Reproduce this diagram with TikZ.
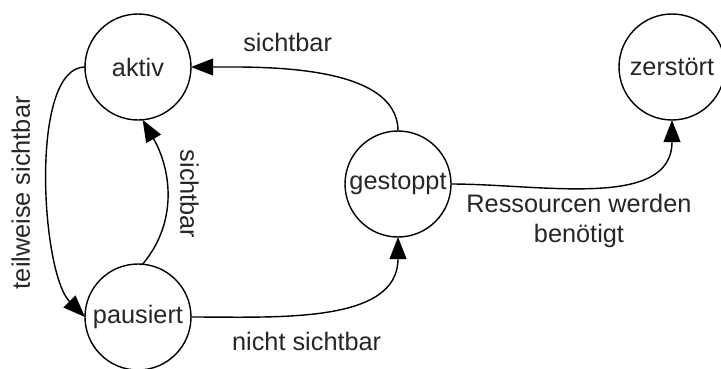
\documentclass[tikz,border=0pt]{standalone}
\usepackage{fontspec}
\setmainfont{Liberation Sans}
\usepackage{tikz}
\usetikzlibrary{arrows.meta}
\usetikzlibrary{positioning}

\tikzset{
    zustand/.style={circle, draw, line width=1pt, minimum size=2.65cm,
        inner sep=0pt, outer sep=0pt, text=black!85},
    uebergang/.style={line width=1pt, -{Triangle[length=0.55cm, width=0.42cm]}},
    beschriftung/.style={text=black!85}
}

\begin{document}
\begin{tikzpicture}[on grid, font=\fontsize{18}{21.5}\selectfont]
    \useasboundingbox (0,0) rectangle (18.025,9.2);

    \node[zustand] (aktiv) at (3.45,7.525) {aktiv};
    \node[zustand, below=6.25cm of aktiv] (pausiert) {pausiert};
    \node[zustand, below right=2.925cm and 6.5cm of aktiv] (gestoppt) {gestoppt};
    \node[zustand, right=13.35cm of aktiv] (zerstoert) {zerstört};

    \draw[uebergang] (gestoppt.north) to[out=90, in=0, looseness=0.8]
        node[beschriftung, pos=0.62, above=0.3cm] {sichtbar} (aktiv.east);
    \draw[uebergang] (aktiv.west) .. controls +(-1.4,0) and +(-1.1,1.1) .. (pausiert.west)
        node[beschriftung, pos=0.55, rotate=90, anchor=south, inner sep=12.5pt] {teilweise sichtbar};
    \draw[uebergang] (pausiert.85) to[out=50, in=-60]
        node[beschriftung, pos=0.5, rotate=-90, anchor=south, inner sep=9pt] {sichtbar} (aktiv.-85);
    \draw[uebergang] (pausiert.east) to[out=0, in=-90]
        node[beschriftung, pos=0.42, below=0.35cm] {nicht sichtbar} (gestoppt.south);
    \draw[uebergang] (gestoppt.east) to[out=0, in=-90]
        node[beschriftung, pos=0.44, below=0.05cm, align=center] {Ressourcen werden\\benötigt} (zerstoert.south);
\end{tikzpicture}
\end{document}
